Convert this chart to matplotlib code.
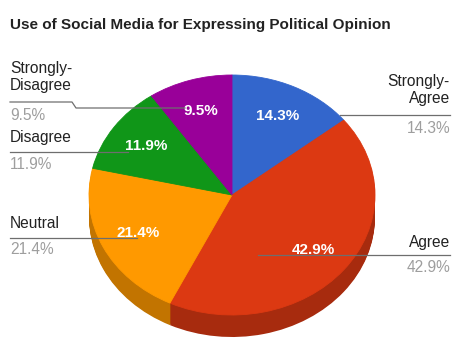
import numpy as np
import matplotlib
matplotlib.use("Agg")
from matplotlib import pyplot as plt

plt.rcParams['font.family'] = ['Liberation Sans', 'DejaVu Sans']

# data (responses, clockwise from 12 o'clock)
labels = ["Strongly-\nAgree", "Agree", "Neutral", "Disagree", "Strongly-\nDisagree"]
counts = [6, 18, 9, 5, 4]
colors = ["#3366cc", "#dc3912", "#ff9900", "#109618", "#990099"]
title = "Use of Social Media for Expressing Political Opinion"

W, H = 453, 347
fig = plt.figure(figsize=(W / 100, H / 100), dpi=100)

# pie geometry in pixels
cx, cy = 232, 195       # centre of top face (from top)
rx, ry = 143, 120       # ellipse radii
depth = 22

ax = fig.add_axes([(cx - 1.5 * rx) / W, (H - cy - 1.5 * ry) / H, 3 * rx / W, 3 * ry / H])

def darker(c, f=0.76):
    r, g, b = matplotlib.colors.to_rgb(c)
    return (r * f, g * f, b * f)

side_cols = [darker(c) for c in colors]
# side of the 3d pie: stack of darker pies
for d in range(depth, 0, -1):
    ax.pie(counts, colors=side_cols, startangle=90, counterclock=False,
           center=(0, -d / ry), wedgeprops=dict(linewidth=0))

wedges, _, autotexts = ax.pie(counts, colors=colors, startangle=90, counterclock=False,
                              autopct=lambda p: f"{p:.1f}%", pctdistance=0.73,
                              wedgeprops=dict(linewidth=0.6),
                              textprops=dict(color="white", fontsize=11, fontweight="bold"))
for w, c in zip(wedges, colors):
    w.set_edgecolor(c)
ax.set_aspect('auto')
ax.set_xlim(-1.5, 1.5)
ax.set_ylim(-1.5, 1.5)
ax.axis('off')

# overlay in pixel coordinates for title, labels and leader lines
ov = fig.add_axes([0, 0, 1, 1])
ov.set_xlim(0, W)
ov.set_ylim(H, 0)
ov.axis('off')
ov.patch.set_alpha(0)

ov.text(10, 25, title, fontsize=11, fontweight="bold", color="#222222", va="center", ha="left")

pcts = [100 * c / sum(counts) for c in counts]
lc = "#6e6e6e"
fs = 11.2

# Strongly-Agree (right)
ov.text(450, 90, labels[0], fontsize=fs, color="#222222", ha="right", va="center", linespacing=1.1)
ov.plot([340, 450], [115, 115], color=lc, lw=0.9)
ov.text(450, 128, f"{pcts[0]:.1f}%", fontsize=fs, color="#9e9e9e", ha="right", va="center")

# Agree (right)
ov.text(450, 242, labels[1], fontsize=fs, color="#222222", ha="right", va="center")
ov.plot([258, 450], [255, 255], color=lc, lw=0.9)
ov.text(450, 267, f"{pcts[1]:.1f}%", fontsize=fs, color="#9e9e9e", ha="right", va="center")

# Neutral (left)
ov.text(10, 223, labels[2], fontsize=fs, color="#222222", ha="left", va="center")
ov.plot([10, 137], [238, 238], color=lc, lw=0.9)
ov.text(10, 249, f"{pcts[2]:.1f}%", fontsize=fs, color="#9e9e9e", ha="left", va="center")

# Disagree (left)
ov.text(10, 137, labels[3], fontsize=fs, color="#222222", ha="left", va="center")
ov.plot([10, 128], [152, 152], color=lc, lw=0.9)
ov.text(10, 164, f"{pcts[3]:.1f}%", fontsize=fs, color="#9e9e9e", ha="left", va="center")

# Strongly-Disagree (left)
ov.text(10, 77, labels[4], fontsize=fs, color="#222222", ha="left", va="center", linespacing=1.1)
ov.plot([10, 72, 76, 185], [102, 102, 108, 108], color=lc, lw=0.9)
ov.text(10, 115, f"{pcts[4]:.1f}%", fontsize=fs, color="#9e9e9e", ha="left", va="center")

fig.savefig("out.png", dpi=100)
